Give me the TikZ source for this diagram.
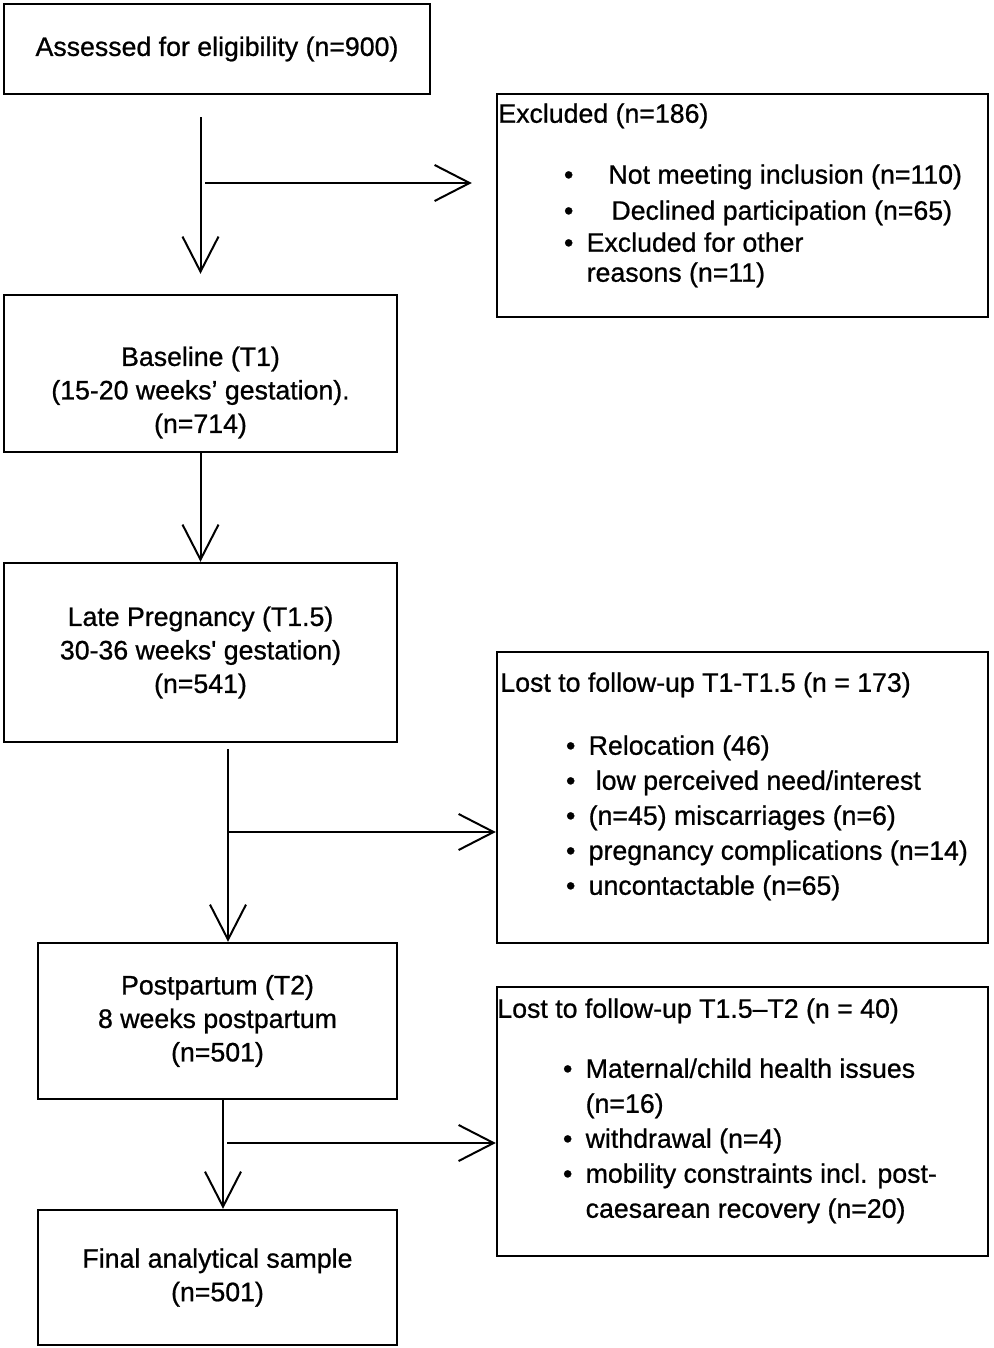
\documentclass[tikz,border=0pt]{standalone}
\usepackage{fontspec}
\setmainfont{Liberation Sans}[FakeBold=0.8]
\usetikzlibrary{arrows.meta,calc}
\newcommand{\stagefont}{\fontsize{13.35}{16.75}\selectfont}
\newcommand{\listfont}{\fontsize{13.35}{17.5}\selectfont}
\newcommand{\itm}[1][11.35pt]{\hspace*{32.8pt}\makebox[#1][l]{\textbullet}}
\newcommand{\contind}{\hspace*{44.15pt}}
\tikzset{
  flow/.style={-{Straight Barb[length=17.5pt,width=18pt]},line width=1pt},
  stage/.style={draw=black,line width=1.2pt,inner sep=0pt,align=center,font=\stagefont},
  loss/.style={draw=black,line width=1.2pt,inner sep=0pt,minimum width=245.5pt},
  losstext/.style={inner sep=0pt,anchor=north west,align=left,font=\listfont},
}

\begin{document}
\begin{tikzpicture}[x=0.5pt,y=0.5pt]
  \path[use as bounding box,fill=white] (0,0) rectangle (993,-1348);

  % main column
  \node[stage,minimum width=213pt,minimum height=45pt] (assess) at (217,-49)
    {Assessed for eligibility (n=900)};
  \node[stage,minimum width=196.5pt,minimum height=78.5pt] (base) at (200.5,-373.5) {};
  \node[stage,draw=none] (baseText) at ($(base.center)+(0,-19)$)
    {Baseline (T1)\\(15-20 weeks’ gestation).\\(n=714)};
  \node[stage,minimum width=196.5pt,minimum height=89.5pt] (late) at (200.5,-652.5)
    {Late Pregnancy (T1.5)\\30-36 weeks\textquotesingle{} gestation)\\(n=541)};
  \node[stage,minimum width=179.5pt,minimum height=78pt] (post) at (217.5,-1021)
    {Postpartum (T2)\\8 weeks postpartum\\(n=501)};
  \node[stage,minimum width=179.5pt,minimum height=67.5pt] (final) at (217.5,-1277.5)
    {Final analytical sample\\(n=501)};

  % losses
  \node[loss,minimum height=111.5pt] (excl) at (742.5,-205.5) {};
  \node[losstext] (exclText) at (498,-103)
    {Excluded (n=186)\\[13pt]
     \itm[22.25pt]Not meeting inclusion (n=110)\\[0.5pt]
     \itm[23.75pt]Declined participation (n=65)\\[-1.5pt]
     \itm Excluded for other\\[-2.5pt]
     \contind reasons (n=11)};
  \node[loss,minimum height=145.5pt] (lost1) at (742.5,-797.5) {};
  \node[losstext] (lost1Text) at (500,-672)
    {Lost to follow-up T1-T1.5 (n = 173)\\[14pt]
     \itm Relocation (46)\\
     \itm[14.9pt]low perceived need/interest\\
     \itm (n=45) miscarriages (n=6)\\
     \itm pregnancy complications (n=14)\\
     \itm uncontactable (n=65)};
  \node[loss,minimum height=134.5pt] (lost2) at (742.5,-1121.5) {};
  \node[losstext] (lost2Text) at (497,-998)
    {Lost to follow-up T1.5–T2 (n = 40)\\[12.5pt]
     \itm Maternal/child health issues\\
     \contind (n=16)\\
     \itm withdrawal (n=4)\\
     \itm mobility constraints incl. post-\\
     \contind caesarean recovery (n=20)};

  % connectors
  \coordinate (split1) at (201,-183);
  \coordinate (split2) at (228,-832);
  \coordinate (split3) at (223,-1143);
  \draw[flow,shorten <=11pt,shorten >=10pt] (assess.south -| base.north) -- (base.north);
  \draw[flow,shorten <=2pt,shorten >=12pt] (split1) -- (split1 -| excl.west);
  \draw[flow] (base.south) -- (late.north);
  \draw[flow,shorten <=3pt] (split2 |- late.south) -- (split2 |- post.north);
  \draw[flow] (split2) -- (split2 -| lost1.west);
  \draw[flow] (split3 |- post.south) -- (split3 |- final.north);
  \draw[flow,shorten <=2pt] (split3) -- (split3 -| lost2.west);
\end{tikzpicture}
\end{document}
